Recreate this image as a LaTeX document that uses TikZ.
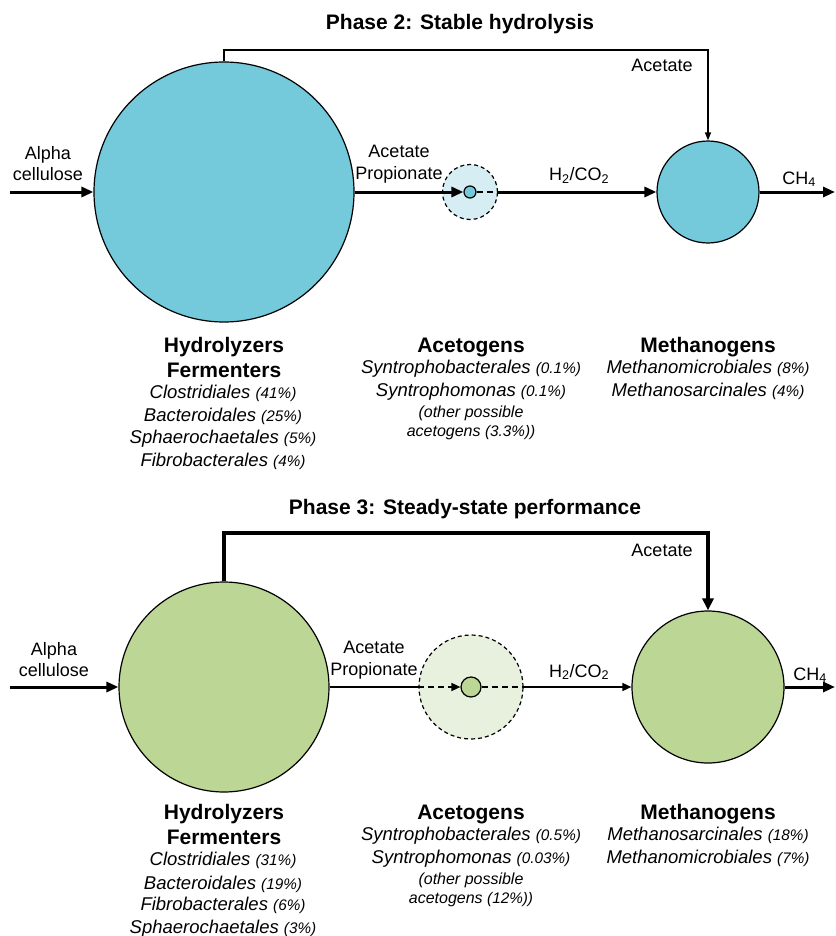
\documentclass[tikz,border=0pt]{standalone}
\usepackage{fontspec}
\setmainfont{Liberation Sans}
\usetikzlibrary{arrows.meta}
\definecolor{blueC}{HTML}{74CADB}
\definecolor{blueL}{HTML}{D6EDF3}
\definecolor{greenC}{HTML}{BCD696}
\definecolor{greenL}{HTML}{E8F0DE}
\newcommand{\pc}[1]{{\fontsize{15.3}{18}\selectfont #1}}
\begin{document}
\begin{tikzpicture}[x=1pt,y=-1pt,
  circ/.style={circle,draw=black,line width=1.2pt,inner sep=0pt},
  dcirc/.style={circle,draw=black,line width=1.2pt,inner sep=0pt,dash pattern=on 4pt off 3pt},
  txt/.style={anchor=base,inner sep=0pt,font=\fontsize{18}{21}\selectfont},
  headtxt/.style={anchor=base,inner sep=0pt,font=\fontsize{21}{24}\selectfont\bfseries},
  titletxt/.style={anchor=base,inner sep=0pt,font=\fontsize{21}{24}\selectfont\bfseries},
  sp/.style={anchor=base,inner sep=0pt,font=\fontsize{18.5}{21}\selectfont\itshape},
  spsm/.style={anchor=base,inner sep=0pt,font=\fontsize{16}{19}\selectfont\itshape},
  fatarr/.style={line width=3pt,-{Triangle[length=12pt,width=10pt]}},
  thinarr/.style={line width=1.6pt,-{Triangle[length=9pt,width=8pt]}},
  dline/.style={dash pattern=on 6pt off 4pt}
]
\useasboundingbox (0,0) rectangle (835,936);

% ---------------- Phase 2 ----------------
\node[titletxt] (t2) at (460,29.5) {Phase 2: Stable hydrolysis};
\node[circ,fill=blueC,minimum size=260pt] (hyd1) at (224,192) {};
\node[dcirc,fill=blueL,minimum size=55pt] (ace1o) at (470,192) {};
\node[circ,fill=blueC,minimum size=12pt] (ace1i) at (470,192) {};
\node[circ,fill=blueC,minimum size=102pt] (met1) at (708,192) {};
\coordinate (in1) at (10,192);
\coordinate (out1) at (835,192);
\coordinate (tl1) at (466,50);
\draw[fatarr] (in1) -- (hyd1.west);
\draw[fatarr] (hyd1.east) -- (ace1i.west);
\draw[line width=1.6pt,dline] (ace1i.east) -- (ace1o.east);
\draw[fatarr] (ace1o.east) -- (met1.west);
\draw[fatarr] (met1.east) -- (out1);
\draw[line width=1.5pt,-{Triangle[length=8pt,width=6pt]}] (hyd1.north) |- (tl1) -| (met1.north);

\node[txt] (al1a) at (48,160) {Alpha};
\node[txt] (al1b) at (48,181) {cellulose};
\node[txt] (ap1a) at (399,158) {Acetate};
\node[txt] (ap1b) at (399,179) {Propionate};
\node[txt] (h1) at (579,181) {H\textsubscript{2}/CO\textsubscript{2}};
\node[txt] (ch1) at (799,184) {CH\textsubscript{4}};
\node[txt] (ac1) at (662,72) {Acetate};

\node[headtxt] (hf1a) at (224,352) {Hydrolyzers};
\node[headtxt] (hf1b) at (224,377) {Fermenters};
\node[sp] (s11) at (223,398.5) {Clostridiales \pc{(41\%)}};
\node[sp] (s12) at (223,421.5) {Bacteroidales \pc{(25\%)}};
\node[sp] (s13) at (223,443.5) {Sphaerochaetales \pc{(5\%)}};
\node[sp] (s14) at (223,466.5) {Fibrobacterales \pc{(4\%)}};

\node[headtxt] (ag1) at (471,352) {Acetogens};
\node[sp] (a11) at (471,373) {Syntrophobacterales \pc{(0.1\%)}};
\node[sp] (a12) at (471,396) {Syntrophomonas \pc{(0.1\%)}};
\node[spsm] (a13) at (471,417) {(other possible};
\node[spsm] (a14) at (471,436) {acetogens \pc{(3.3\%))}};

\node[headtxt] (mg1) at (708,352) {Methanogens};
\node[sp] (m11) at (708,373) {Methanomicrobiales \pc{(8\%)}};
\node[sp] (m12) at (708,396) {Methanosarcinales \pc{(4\%)}};

% ---------------- Phase 3 ----------------
\node[titletxt] (t3) at (465,514.5) {Phase 3: Steady-state performance};
\node[circ,fill=greenC,minimum size=210pt] (hyd2) at (224,687) {};
\node[dcirc,fill=greenL,minimum size=104pt] (ace2o) at (471,687) {};
\node[circ,fill=greenC,minimum size=20pt] (ace2i) at (471,687) {};
\node[circ,fill=greenC,minimum size=152pt] (met2) at (708,687) {};
\coordinate (in2) at (10,687);
\coordinate (out2) at (835,687);
\coordinate (tl2) at (466,533);
\draw[fatarr] (in2) -- (hyd2.west);
\draw[line width=1.6pt] (hyd2.east) -- (ace2o.west);
\draw[line width=1.6pt,dline,-{Triangle[length=9pt,width=8pt]}] (ace2o.west) -- (ace2i.west);
\draw[line width=1.6pt,dline] (ace2i.east) -- (ace2o.east);
\draw[thinarr] (ace2o.east) -- (met2.west);
\draw[fatarr] (met2.east) -- (out2);
\draw[line width=3.5pt,-{Triangle[length=12pt,width=11pt]}] (hyd2.north) |- (tl2) -| (met2.north);

\node[txt] (al2a) at (54,655) {Alpha};
\node[txt] (al2b) at (54,676) {cellulose};
\node[txt] (ap2a) at (374,653) {Acetate};
\node[txt] (ap2b) at (374,675) {Propionate};
\node[txt] (h2) at (579,677) {H\textsubscript{2}/CO\textsubscript{2}};
\node[txt] (ch2) at (810,680) {CH\textsubscript{4}};
\node[txt] (ac2) at (662,556) {Acetate};

\node[headtxt] (hf2a) at (224,819) {Hydrolyzers};
\node[headtxt] (hf2b) at (224,844) {Fermenters};
\node[sp] (s21) at (223,865.5) {Clostridiales \pc{(31\%)}};
\node[sp] (s22) at (223,889) {Bacteroidales \pc{(19\%)}};
\node[sp] (s23) at (223,910.5) {Fibrobacterales \pc{(6\%)}};
\node[sp] (s24) at (223,933) {Sphaerochaetales \pc{(3\%)}};

\node[headtxt] (ag2) at (471,819) {Acetogens};
\node[sp] (a21) at (471,840) {Syntrophobacterales \pc{(0.5\%)}};
\node[sp] (a22) at (471,863) {Syntrophomonas \pc{(0.03\%)}};
\node[spsm] (a23) at (471,884) {(other possible};
\node[spsm] (a24) at (471,903) {acetogens \pc{(12\%))}};

\node[headtxt] (mg2) at (708,819) {Methanogens};
\node[sp] (m21) at (708,840) {Methanosarcinales \pc{(18\%)}};
\node[sp] (m22) at (708,863) {Methanomicrobiales \pc{(7\%)}};
\end{tikzpicture}
\end{document}
